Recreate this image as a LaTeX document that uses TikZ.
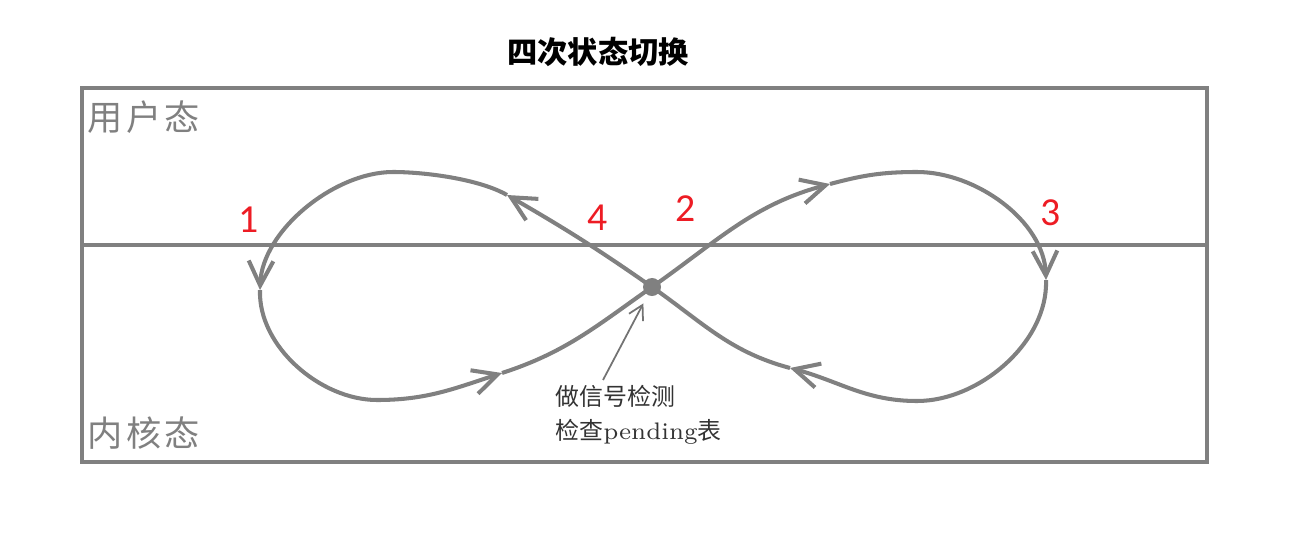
\documentclass[tikz,border=0pt]{standalone}
\usepackage{fontspec}
\usetikzlibrary{arrows.meta}
\newfontfamily\cjk{Noto Sans CJK SC}
\newfontfamily\digits{Carlito}
\definecolor{linegray}{RGB}{128,128,128}
\definecolor{numred}{RGB}{237,28,36}

\begin{document}
\begin{tikzpicture}[x=0.01cm,y=0.01cm]
  \tikzstyle{loop}=[draw=linegray,line width=1.15pt,-{Straight Barb[length=7pt,width=7pt]}]
  \tikzstyle{num}=[text=numred,font=\digits\fontsize{11.3}{13}\selectfont]
  \tikzstyle{mode}=[text=linegray,anchor=west,font=\cjk\fontsize{10}{12}\selectfont]
  \tikzstyle{dot}=[circle,fill=linegray,minimum size=0.18cm,inner sep=0pt]
  \useasboundingbox (0,0) rectangle (1301,536);
  \node[font=\cjk\bfseries\fontsize{8.6}{10}\selectfont] (title) at (598,484) {四次状态切换};
  % frame and boundary
  \draw[linegray,line width=1.15pt] (82,74) rectangle (1207,448);
  \draw[linegray,line width=1.15pt] (82,291) -- (1207,291);
  \node[mode] (user) at (75,419) {用\hspace{1pt}户\hspace{1pt}态};
  \node[mode] (kernel) at (75,103) {内\hspace{1pt}核\hspace{1pt}态};
  % points on the curve
  \coordinate (c) at (652,249);
  \coordinate (r1) at (830,352);
  \coordinate (rt) at (917,364);
  \coordinate (r3) at (1046,256);
  \coordinate (rb) at (917,135);
  \coordinate (r5) at (790,168);
  \coordinate (l4) at (507,341);
  \coordinate (lt) at (393,364);
  \coordinate (l1) at (260,246);
  \coordinate (lb) at (377,136);
  \coordinate (l5) at (502,163);
  \draw[loop] (c) to[out=35,in=195] (r1);
  \draw[loop] (r1) to[out=15,in=180] (rt) to[out=0,in=92,looseness=0.9] (r3);
  \draw[loop] (r3) to[out=-88,in=0,looseness=0.9] (rb) to[out=180,in=-15] (r5);
  \draw[loop,-] (r5) to[out=165,in=-35] (c);
  \draw[loop] (c) to[out=145,in=-30] (l4);
  \draw[loop] (l4) to[out=150,in=0,looseness=0.7] (lt) to[out=180,in=88,looseness=0.85] (l1);
  \draw[loop] (l1) to[out=-92,in=180,looseness=0.9] (lb) to[out=0,in=198] (l5);
  \draw[loop,-] (l5) to[out=18,in=215] (c);
  \node[dot] (check) at (c) {};
  % numbers
  \node[num] (n1) at (249,316) {1};
  \node[num] (n2) at (686,327) {2};
  \node[num] (n3) at (1051,323) {3};
  \node[num] (n4) at (598,318) {4};
  % note
  \node[anchor=west,align=left,text=black!80,font=\cjk\fontsize{6.8}{9.7}\selectfont] (note) at (543,121)
    {做信号检测\\检查{\rmfamily pending}表};
  \coordinate (tail) at (603,156);
  \draw[black!55,line width=0.5pt,-{Straight Barb[length=4pt,width=4.5pt]},shorten >=2.5pt] (tail) -- (check);
\end{tikzpicture}
\end{document}
